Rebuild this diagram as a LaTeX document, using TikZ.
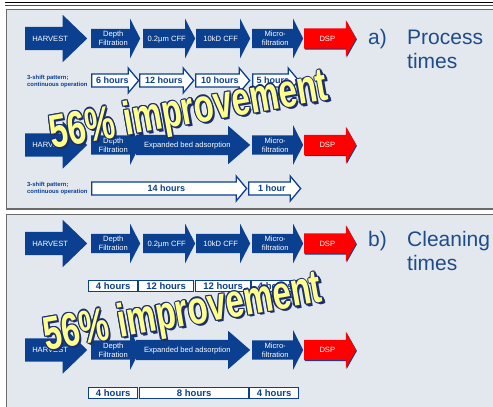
\documentclass[tikz,border=0pt]{standalone}
\usepackage{fontspec}
\setmainfont{Liberation Sans}
\usetikzlibrary{shapes.arrows,shadows}

\definecolor{panelgray}{HTML}{E3E8EE}
\definecolor{edgegray}{HTML}{6A6A6A}
\definecolor{stageblue}{HTML}{0B3F8F}
\definecolor{titleblue}{HTML}{1E4C8A}
\definecolor{dspred}{HTML}{FF0000}
\definecolor{artyellow}{HTML}{FFFF8C}
\definecolor{artblue}{HTML}{1C2E6E}

\begin{document}
\begin{tikzpicture}[x=1pt, y=-1pt,
    panel/.style={draw=edgegray, line width=1.6pt, fill=panelgray},
    stage/.style={single arrow, anchor=tail, minimum height=#1, fill=stageblue, text=white,
      font=\fontsize{7.6}{9}\selectfont, align=center, inner xsep=1pt, inner ysep=2.25pt,
      single arrow head extend=10pt, single arrow tip angle=126},
    oneline/.style={text height=5.5pt, text depth=0pt, inner ysep=6.75pt},
    harvest/.style={stage=#1, oneline, inner ysep=8.75pt, single arrow head extend=12pt, single arrow tip angle=88},
    wide/.style={stage=#1, oneline, inner ysep=7.25pt, single arrow head extend=9pt, single arrow tip angle=82},
    dsp/.style={stage=#1, oneline, inner ysep=7.25pt, fill=dspred, single arrow head extend=8pt, single arrow tip angle=121,
      drop shadow={shadow xshift=0.7pt, shadow yshift=-0.9pt, fill=stageblue, opacity=1}},
    hourarrow/.style={single arrow, anchor=tail, minimum height=#1, draw=stageblue, line width=1.3pt, fill=white,
      text=stageblue, font=\bfseries\fontsize{9}{10}\selectfont, text height=6.5pt, text depth=0pt,
      inner xsep=1pt, inner ysep=2.6pt, single arrow head extend=6pt, single arrow tip angle=100},
    hourcell/.style={rectangle, anchor=west, minimum width=#1, minimum height=11pt, inner sep=0pt,
      draw=stageblue, line width=1.3pt, fill=white, text=stageblue, font=\bfseries\fontsize{9.5}{10}\selectfont},
    shiftnote/.style={anchor=west, align=left, text=stageblue, font=\bfseries\fontsize{5.9}{7}\selectfont, inner sep=0pt},
    title/.style={anchor=base west, text=titleblue, font=\fontsize{21}{24}\selectfont, inner sep=0pt},
    gain/.style={font=\bfseries\fontsize{47}{47}\selectfont, rotate=10, xscale=0.7, inner sep=0pt}
  ]
  \useasboundingbox (0,0) rectangle (493,407);
  \clip (0,0) rectangle (493,407);

  % Frame
  \draw[line width=1.4pt] (5,2.2) -- (493,2.2);
  \draw[line width=1pt, black!70] (5,5.5) -- (493,5.5);
  \draw[panel] (6.5,9.5) rectangle (520,209);
  \draw[panel] (6.5,214.5) rectangle (520,430);

  % Panel a: process chain (current)
  \node[harvest=62] (harvA) at (25,38.5) {HARVEST};
  \node[stage=49] (depthA) at (91,38.5) {Depth\\Filtration};
  \node[stage=52, oneline] (cffA) at (143,38.5) {0.2µm CFF};
  \node[stage=54, oneline] (kdA) at (196,38.5) {10kD CFF};
  \node[stage=51] (microA) at (252,38.5) {Micro-\\filtration};
  \node[dsp=52] (dspA) at (304,38.5) {DSP};

  % Panel a: process times (current)
  \node[shiftnote] (noteA) at (27,81) {3-shift pattern;\\continuous operation};
  \node[hourarrow=47] (sixA) at (91,80.5) {6 hours};
  \node[hourarrow=54] (twelveA) at (139,80.5) {12 hours};
  \node[hourarrow=54] (tenA) at (195,80.5) {10 hours};
  \node[hourarrow=46] (fiveA) at (252,80.5) {5 hours};

  % Panel a: process chain (EBA)
  \node[wide=114] (ebaA) at (136,145) {Expanded bed adsorption};
  \node[harvest=62] (harvB) at (25,145) {HARVEST};
  \node[stage=49] (depthB) at (91,145) {Depth\\Filtration};
  \node[stage=51] (microB) at (252,145) {Micro-\\filtration};
  \node[dsp=52] (dspB) at (304,145) {DSP};

  % Panel a: process times (EBA)
  \node[shiftnote] (noteB) at (27,188) {3-shift pattern;\\continuous operation};
  \node[hourarrow=155] (fourteenA) at (91,188.5) {14 hours};
  \node[hourarrow=52] (oneA) at (248,188.5) {1 hour};

  % Panel b: process chain (current)
  \node[harvest=62] (harvC) at (25,243.5) {HARVEST};
  \node[stage=49] (depthC) at (91,243.5) {Depth\\Filtration};
  \node[stage=52, oneline] (cffC) at (143,243.5) {0.2µm CFF};
  \node[stage=54, oneline] (kdC) at (196,243.5) {10kD CFF};
  \node[stage=51] (microC) at (252,243.5) {Micro-\\filtration};
  \node[dsp=52] (dspC) at (304,243.5) {DSP};

  % Panel b: cleaning times (current)
  \node[hourcell=49] (fourB) at (88,286) {4 hours};
  \node[hourcell=55] (twelveB) at (138,286) {12 hours};
  \node[hourcell=55] (twelveC) at (195,286) {12 hours};
  \node[hourcell=47] (fourC) at (251,286) {4 hours};

  % Panel b: process chain (EBA)
  \node[wide=114] (ebaB) at (136,350) {Expanded bed adsorption};
  \node[harvest=62] (harvD) at (25,350) {HARVEST};
  \node[stage=49] (depthD) at (91,350) {Depth\\Filtration};
  \node[stage=51] (microD) at (252,350) {Micro-\\filtration};
  \node[dsp=52] (dspD) at (304,350) {DSP};

  % Panel b: cleaning times (EBA)
  \node[hourcell=49] (fourD) at (88,393) {4 hours};
  \node[hourcell=109] (eightB) at (139,393) {8 hours};
  \node[hourcell=49] (fourE) at (249,393) {4 hours};

  % Titles
  \node[title] (tagA) at (368,44) {a)};
  \node[title] (procA) at (407,44) {Process};
  \node[title] (timesA) at (407,68.5) {times};
  \node[title] (tagB) at (368,246) {b)};
  \node[title] (cleanB) at (407,246) {Cleaning};
  \node[title] (timesB) at (407,270) {times};

  % 56% banners: extrusion, outline, face
  \foreach \s in {1,2} {
    \node[shift={(1.1*\s pt,-1.1*\s pt)}, gain, text=artblue] (gainA-s\s) at (189,112) {56\% improvement};
    \node[shift={(1.1*\s pt,-1.1*\s pt)}, gain, text=artblue] (gainB-s\s) at (183,314) {56\% improvement};
  }
  \foreach \a in {0,45,...,315} {
    \node[shift={(\a:1.2pt)}, gain, text=artblue] (gainA-\a) at (189,112) {56\% improvement};
    \node[shift={(\a:1.2pt)}, gain, text=artblue] (gainB-\a) at (183,314) {56\% improvement};
  }
  \node[gain, text=artyellow] (gainA) at (189,112) {56\% improvement};
  \node[gain, text=artyellow] (gainB) at (183,314) {56\% improvement};

\end{tikzpicture}
\end{document}
